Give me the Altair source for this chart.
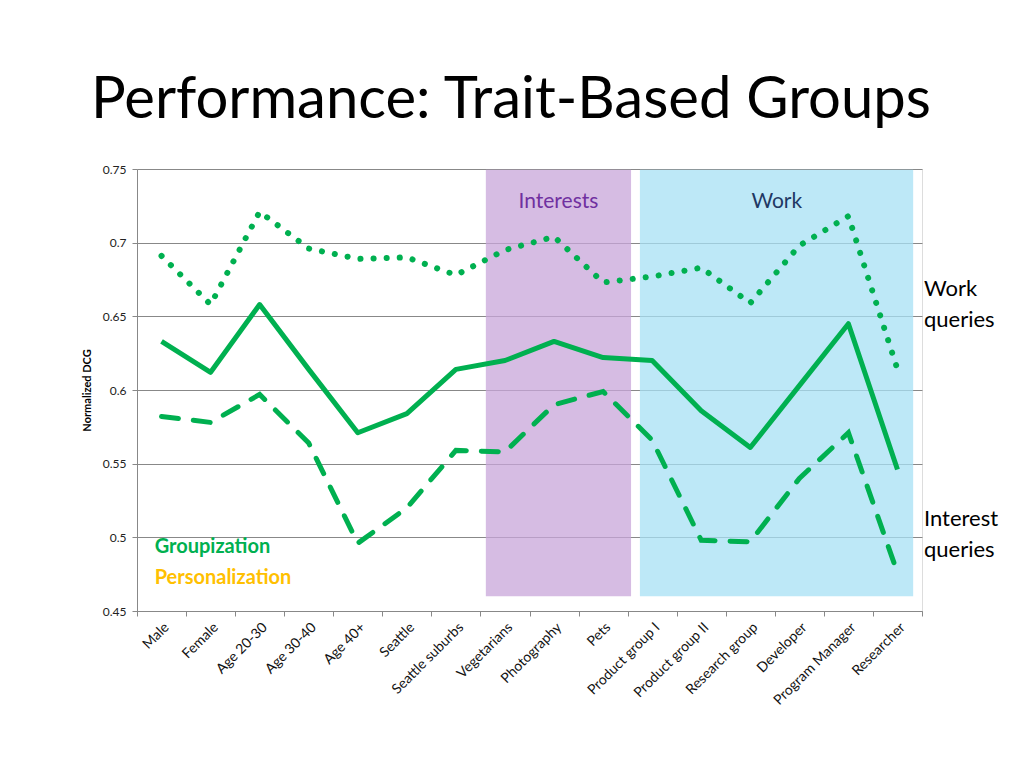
import json
import altair as alt
import pandas as pd

categories = ["Male", "Female", "Age 20-30", "Age 30-40", "Age 40+", "Seattle",
              "Seattle suburbs", "Vegetarians", "Photography", "Pets",
              "Product group I", "Product group II", "Research group",
              "Developer", "Program Manager", "Researcher"]

groupization_all = [0.633, 0.612, 0.658, 0.614, 0.571, 0.584, 0.614, 0.620,
                    0.633, 0.622, 0.620, 0.586, 0.561, 0.603, 0.645, 0.546]
work_queries = [0.691, 0.658, 0.721, 0.696, 0.689, 0.690, 0.678, 0.695,
                0.704, 0.673, 0.677, 0.683, 0.659, 0.698, 0.718, 0.614]
interest_queries = [0.582, 0.578, 0.597, 0.564, 0.496, 0.520, 0.559, 0.558,
                    0.590, 0.599, 0.566, 0.498, 0.497, 0.540, 0.571, 0.476]

region_names = ["Interests", "Work"]
region_start = [6.61, 9.75]
region_end = [9.57, 15.32]
region_bottom = [0.46, 0.46]
region_top = [0.7495, 0.7495]

y_ticks = [0.45, 0.5, 0.55, 0.6, 0.65, 0.7, 0.75]

FONT = "Lato"
GREEN = "#00B050"

idx = list(range(len(categories)))
df_solid = pd.DataFrame({"i": idx, "v": groupization_all})
df_dot = pd.DataFrame({"i": idx, "v": work_queries})
df_dash = pd.DataFrame({"i": idx, "v": interest_queries})
df_reg = pd.DataFrame({"name": region_names, "x0": region_start, "x1": region_end,
                       "y0": region_bottom, "y1": region_top})

xscale = alt.Scale(domain=[-0.5, len(categories) - 0.5], nice=False, zero=False)
yscale = alt.Scale(domain=[0.45, 0.75], nice=False, zero=False)

yaxis = alt.Axis(values=y_ticks, format="~g", title="Normalized DCG",
                 titleFont=FONT, titleFontSize=11, titleFontWeight="bold",
                 titleColor="black", titlePadding=10,
                 labelFont=FONT, labelFontSize=12, labelColor="#222",
                 labelPadding=6, tickSize=5, tickColor="#888",
                 domainColor="#888", gridColor="#888", gridWidth=1)

tick_axis = alt.Axis(values=[k - 0.5 for k in range(len(categories) + 1)],
                     labels=False, title=None, grid=False, orient="bottom",
                     tickSize=5, tickColor="#888", domainColor="#888")

names_js = json.dumps(categories)
label_axis = alt.Axis(values=idx, labelExpr=names_js + "[datum.value]",
                      title=None, grid=False, orient="bottom", ticks=False,
                      domain=False, labelAngle=-45, labelAlign="right",
                      labelBaseline="top", labelFont=FONT, labelFontSize=14,
                      labelColor="#111", labelPadding=9, labelOverlap=False,
                      labelBound=False, labelFlush=False)

rects = alt.Chart(df_reg).mark_rect(opacity=0.75).encode(
    x=alt.X("x0:Q", scale=xscale, axis=tick_axis),
    x2="x1:Q",
    y=alt.Y("y0:Q", scale=yscale, axis=yaxis),
    y2="y1:Q",
    color=alt.Color("name:N", scale=alt.Scale(domain=region_names,
                                              range=["#C8A6D9", "#A7E0F4"]),
                    legend=None),
)

solid = alt.Chart(df_solid).mark_line(color=GREEN, strokeWidth=5,
                                      strokeJoin="round").encode(
    x=alt.X("i:Q", scale=xscale, axis=label_axis),
    y=alt.Y("v:Q", scale=yscale, axis=yaxis),
)
dotted = alt.Chart(df_dot).mark_line(color=GREEN, strokeWidth=6,
                                     strokeCap="round",
                                     strokeDash=[0.1, 13]).encode(
    x=alt.X("i:Q", scale=xscale, axis=None),
    y=alt.Y("v:Q", scale=yscale, axis=yaxis),
)
dashed = alt.Chart(df_dash).mark_line(color=GREEN, strokeWidth=5,
                                      strokeCap="round",
                                      strokeDash=[17, 15]).encode(
    x=alt.X("i:Q", scale=xscale, axis=None),
    y=alt.Y("v:Q", scale=yscale, axis=yaxis),
)


def label(text, x, y, color, size, weight="normal", align="center", lh=None):
    d = pd.DataFrame({"x": [x], "y": [y], "t": [text]})
    kw = dict(color=color, fontSize=size, font=FONT, fontWeight=weight,
              align=align, baseline="middle")
    if lh:
        kw.update(lineBreak="\n", lineHeight=lh)
    return alt.Chart(d).mark_text(**kw).encode(
        x=alt.X("x:Q", scale=xscale, axis=None),
        y=alt.Y("y:Q", scale=yscale, axis=yaxis),
        text="t:N",
    )


texts = [
    label("Interests", 8.09, 0.7275, "#7030A0", 21),
    label("Work", 12.54, 0.7275, "#1F3864", 21),
    label("Groupization", -0.14, 0.4935, GREEN, 20, "bold", "left"),
    label("Personalization", -0.14, 0.4725, "#FFC000", 20, "bold", "left"),
    label("Work\nqueries", 15.54, 0.6685, "black", 22, align="left", lh=31),
    label("Interest\nqueries", 15.54, 0.5125, "black", 22, align="left", lh=31),
]

title = alt.Chart(pd.DataFrame({"t": ["Performance: Trait-Based Groups"]})).mark_text(
    font=FONT, fontSize=58, color="black", align="left", baseline="alphabetic"
).encode(x=alt.value(-46), y=alt.value(-51), text="t:N")

chart = alt.layer(rects, solid, dotted, dashed, *texts, title).resolve_axis(
    x="independent"
).properties(
    width=785, height=442,
    autosize=alt.AutoSizeParams(type="none"),
    padding={"left": 129, "top": 161, "right": 94, "bottom": 149},
).configure_view(stroke=None).configure(background="white")

chart.save("out.html", embed_options={"renderer": "svg", "actions": False})
